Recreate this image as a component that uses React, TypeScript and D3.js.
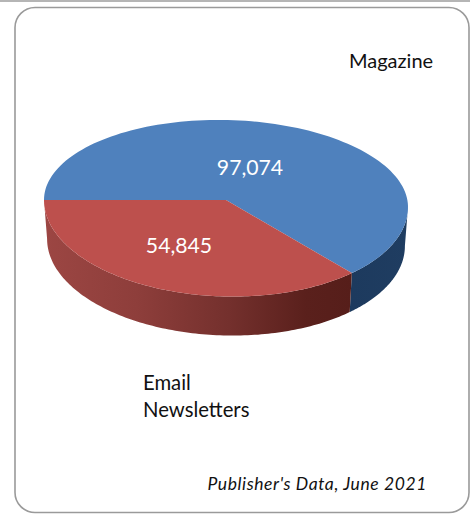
import React from "react";
import * as d3 from "d3";

const categories = ["Magazine", "Email Newsletters"];
const values = [97074, 54845];
const topColors = ["#4f81bd", "#bd504d"];
const W = 470, H = 514;
const font = "Lato, 'Open Sans', sans-serif";

const cx = 226, apexY = 200;
const rx = 182, cyRim = 203.5, ryTop = 83.5, ryBottom = 93, tilt = 3.5, depth = 39;
const perspective = 0.067;

const pie = d3.pie<number>().sort(null).startAngle(1.5 * Math.PI).endAngle(3.5 * Math.PI);
const arcs = pie(values);
const fmt = d3.format(",");

// perspective of the 3D view: angles on the disc are foreshortened on screen
const warp = (t: number) => t + perspective * Math.sin(2 * t);

function rim(t: number): [number, number] {
  const c = Math.cos(t);
  return [cx + rx * Math.sin(t), cyRim + tilt * Math.sin(t) - c * (c > 0 ? ryTop : ryBottom)];
}
function lower(t: number): [number, number] {
  const [x, y] = rim(t);
  return [cx + (x - cx) * 0.983, y + depth];
}
const samples = (a: number, b: number) => d3.range(0, 121).map((i) => a + ((b - a) * i) / 120);
const line = d3.line<[number, number]>();

const topPath = (a: number, b: number) => `${line([[cx, apexY], ...samples(warp(a), warp(b)).map(rim)])}Z`;
const sidePath = (a: number, b: number) =>
  `${line([...samples(a, b).map(rim), ...samples(b, a).map(lower)])}Z`;

const blue = arcs[0], red = arcs[1];
const seam = warp(blue.endAngle - 2 * Math.PI);
const blueFront = [Math.PI / 2, seam];
const redFront = [seam, warp(red.endAngle - 2 * Math.PI)];

export default function App() {
  return (
    <svg width={W} height={H} viewBox={`0 0 ${W} ${H}`} style={{ position: "absolute", left: 0, top: 0 }}>
      <defs>
        <linearGradient id="redSide" gradientUnits="userSpaceOnUse" x1={44} x2={352} y1={0} y2={0}>
          <stop offset="0" stopColor="#9c4643" />
          <stop offset="0.3" stopColor="#8e3e3b" />
          <stop offset="0.6" stopColor="#74302d" />
          <stop offset="0.85" stopColor="#5a201c" />
          <stop offset="1" stopColor="#561e1a" />
        </linearGradient>
        <linearGradient id="blueSide" gradientUnits="userSpaceOnUse" x1={352} x2={408} y1={0} y2={0}>
          <stop offset="0" stopColor="#1d3a5e" />
          <stop offset="1" stopColor="#1f3d61" />
        </linearGradient>
      </defs>
      <rect x={0} y={0} width={W} height={H} fill="#fff" />
      <rect x={0} y={0} width={W} height={2} fill="#b5b5b5" />
      <rect x={15} y={7.5} width={454} height={505} rx={20} ry={20} fill="#fff" stroke="#9a9a9a" strokeWidth={1.6} />
      <path d={sidePath(blueFront[0], blueFront[1])} fill="url(#blueSide)" />
      <path d={sidePath(redFront[0], redFront[1])} fill="url(#redSide)" />
      {arcs.map((d, i) => (
        <path key={categories[i]} d={topPath(d.startAngle, d.endAngle)} fill={topColors[i]} />
      ))}
      <text x={250} y={175} textAnchor="middle" fill="#fff" fontFamily={font} fontSize={21.2}>{fmt(values[0])}</text>
      <text x={179} y={253} textAnchor="middle" fill="#fff" fontFamily={font} fontSize={21.2}>{fmt(values[1])}</text>
      <text x={349} y={68} fill="#111" fontFamily={font} fontSize={20}>{categories[0]}</text>
      <text x={143} y={390} fill="#111" fontFamily={font} fontSize={20.3}>Email</text>
      <text x={143} y={417} fill="#111" fontFamily={font} fontSize={20.3}>Newsletters</text>
      <text x={427} y={490} textAnchor="end" fill="#111" fontFamily={font} fontStyle="italic" fontSize={17.5} letterSpacing={0.6}>Publisher's Data, June 2021</text>
    </svg>
  );
}
